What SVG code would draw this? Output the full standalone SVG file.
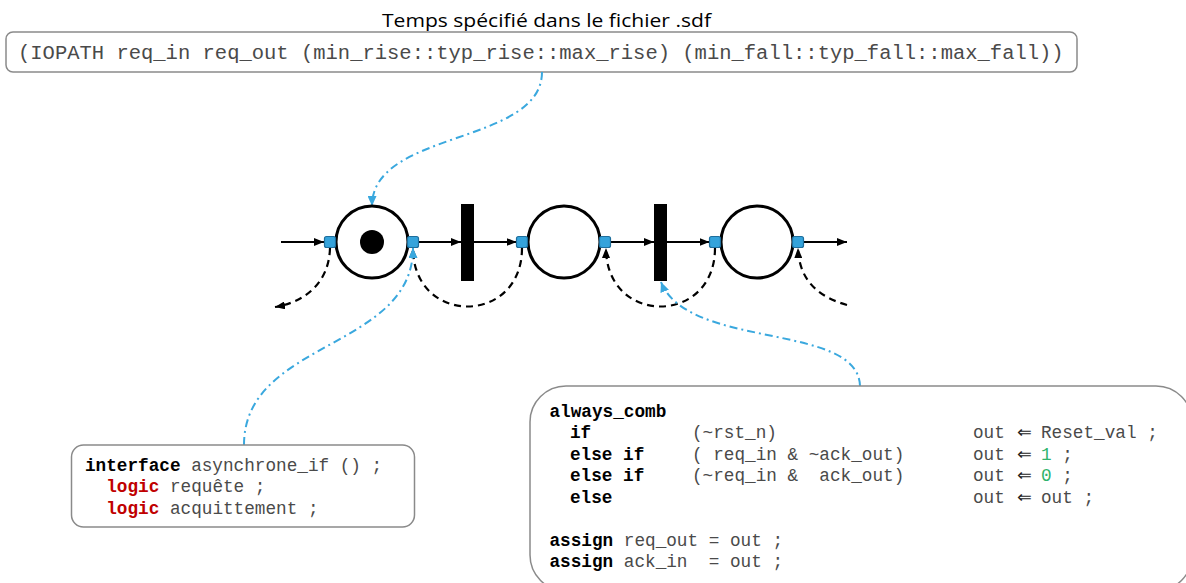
<svg xmlns="http://www.w3.org/2000/svg" width="1186" height="583" viewBox="0 0 1186 583">
<style>
.box{fill:#fff;stroke:#8a8a8a;stroke-width:1.5}
.code{font-family:"Liberation Mono","Courier New",monospace;font-size:17.7px;fill:#4a4a4a}
.kw{font-weight:bold;fill:#000}
.red{font-weight:bold;fill:#c00000}
.grn{fill:#2fb36b}
.arr{font-family:"DejaVu Sans",sans-serif;font-size:17.7px;fill:#222}
.place{fill:#fff;stroke:#000;stroke-width:3}
.port{fill:#35a3db;stroke:#1e6e9c;stroke-width:1.2}
.bar{fill:#000}
.flow{fill:none;stroke:#000;stroke-width:2}
.dash{fill:none;stroke:#000;stroke-width:2.2;stroke-dasharray:7 5}
.blue{fill:none;stroke:#3aa8de;stroke-width:2;stroke-dasharray:8 4 2 4}
</style>
<defs>
<marker id="ab" markerUnits="userSpaceOnUse" markerWidth="10" markerHeight="8" refX="10" refY="4" orient="auto"><path d="M0,0 L10,4 L0,8 z" fill="#000"/></marker>
<marker id="bb" markerUnits="userSpaceOnUse" markerWidth="10" markerHeight="9" refX="10" refY="4.5" orient="auto"><path d="M0,0 L10,4.5 L0,9 z" fill="#3aa8de"/></marker>
</defs>

<g id="sdf">
<text x="382" y="27" font-family="'Open Sans',sans-serif" font-size="19" fill="#000" textLength="329" lengthAdjust="spacingAndGlyphs">Temps spécifié dans le fichier .sdf</text>
<rect class="box" x="6" y="32" width="1071" height="40" rx="7"/>
<text x="18" y="58.5" font-family="'Liberation Mono','Courier New',monospace" font-size="20.5" fill="#4a4a4a" xml:space="preserve">(IOPATH req_in req_out (min_rise::typ_rise::max_rise) (min_fall::typ_fall::max_fall))</text>
</g>

<g id="connectors">
<path class="flow" d="M281,242 H324" marker-end="url(#ab)"/>
<path class="flow" d="M418.5,242 H461" marker-end="url(#ab)"/>
<path class="flow" d="M474,242 H516.5" marker-end="url(#ab)"/>
<path class="flow" d="M610.5,242 H654" marker-end="url(#ab)"/>
<path class="flow" d="M667,242 H709.5" marker-end="url(#ab)"/>
<path class="flow" d="M803.5,242 H847" marker-end="url(#ab)"/>
<path class="dash" d="M330,248 C329,283 305,302 275,307" marker-end="url(#ab)"/>
<path class="dash" d="M522,248 C522,326 413,326 413,248" marker-end="url(#ab)"/>
<path class="dash" d="M715,248 C715,326 606,326 606,248" marker-end="url(#ab)"/>
<path class="dash" d="M847,305 C822,298 799,283 798,248" marker-end="url(#ab)"/>
<path class="blue" d="M542,72 C542,145 372,130 372,206" marker-end="url(#bb)"/>
<path class="blue" d="M244,445 C244,340 413,350 413,248" marker-end="url(#bb)"/>
<path class="blue" d="M860,386 C858,322 688,350 661,282" marker-end="url(#bb)"/>
</g>

<g id="place1">
<circle class="place" cx="372" cy="242" r="36"/>
<circle cx="372" cy="242" r="12" fill="#000"/>
<rect class="port" x="324.5" y="236.5" width="11" height="11" rx="2"/>
<rect class="port" x="407.5" y="236.5" width="11" height="11" rx="2"/>
</g>
<g id="transition1"><rect class="bar" x="461" y="204" width="13" height="77"/></g>
<g id="place2">
<circle class="place" cx="564" cy="242" r="36"/>
<rect class="port" x="516.5" y="236.5" width="11" height="11" rx="2"/>
<rect class="port" x="599.5" y="236.5" width="11" height="11" rx="2"/>
</g>
<g id="transition2"><rect class="bar" x="654" y="204" width="13" height="77"/></g>
<g id="place3">
<circle class="place" cx="757" cy="242" r="36"/>
<rect class="port" x="709.5" y="236.5" width="11" height="11" rx="2"/>
<rect class="port" x="792.5" y="236.5" width="11" height="11" rx="2"/>
</g>

<g id="interface">
<rect class="box" x="71.5" y="445" width="343" height="82" rx="12"/>
<text class="code" x="85" y="470.5" xml:space="preserve"><tspan class="kw">interface</tspan> asynchrone_if () ;</text>
<text class="code" x="85" y="492" xml:space="preserve">  <tspan class="red">logic</tspan> requête ;</text>
<text class="code" x="85" y="513.5" xml:space="preserve">  <tspan class="red">logic</tspan> acquittement ;</text>
</g>

<g id="always">
<rect class="box" x="530" y="386" width="662" height="205" rx="36"/>
<text class="code" y="416.5"><tspan class="kw" x="549.5">always_comb</tspan></text>
<text class="code" y="438" xml:space="preserve"><tspan class="kw" x="570">if</tspan><tspan x="692">(~rst_n)</tspan><tspan x="973">out</tspan><tspan class="arr" x="1017">⇐</tspan><tspan x="1041">Reset_val ;</tspan></text>
<text class="code" y="459.5" xml:space="preserve"><tspan class="kw" x="570">else if</tspan><tspan x="692">( req_in &amp; ~ack_out)</tspan><tspan x="973">out</tspan><tspan class="arr" x="1017">⇐</tspan><tspan x="1041"><tspan class="grn">1</tspan> ;</tspan></text>
<text class="code" y="481" xml:space="preserve"><tspan class="kw" x="570">else if</tspan><tspan x="692">(~req_in &amp;  ack_out)</tspan><tspan x="973">out</tspan><tspan class="arr" x="1017">⇐</tspan><tspan x="1041"><tspan class="grn">0</tspan> ;</tspan></text>
<text class="code" y="502.5" xml:space="preserve"><tspan class="kw" x="570">else</tspan><tspan x="973">out</tspan><tspan class="arr" x="1017">⇐</tspan><tspan x="1041">out ;</tspan></text>
<text class="code" x="549.5" y="545.5" xml:space="preserve"><tspan class="kw">assign</tspan> req_out = out ;</text>
<text class="code" x="549.5" y="567" xml:space="preserve"><tspan class="kw">assign</tspan> ack_in  = out ;</text>
</g>
</svg>
